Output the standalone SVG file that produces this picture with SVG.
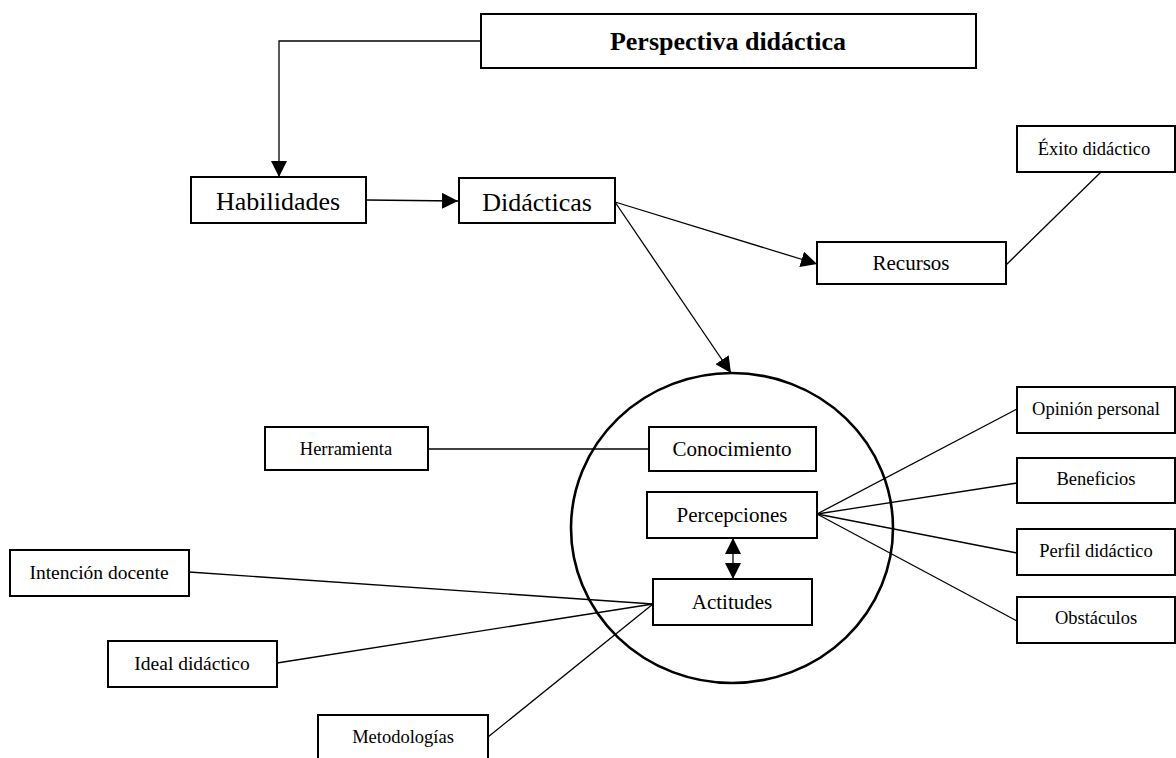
<svg xmlns="http://www.w3.org/2000/svg" width="1176" height="758" viewBox="0 0 1176 758">
  <style>
    .box { fill: #ffffff; stroke: #000000; stroke-width: 2; }
    .ring { fill: none; stroke: #000000; stroke-width: 2.6; }
    .link { fill: none; stroke: #000000; stroke-width: 1.3; }
    text { font-family: "Liberation Serif", "Times New Roman", serif; fill: #000000; text-anchor: middle; }
    .title { font-size: 26px; font-weight: bold; }
    .big { font-size: 26px; }
    .mid { font-size: 21px; }
    .small { font-size: 18.5px; }
  </style>
  <defs>
    <marker id="head" markerUnits="userSpaceOnUse" markerWidth="16" markerHeight="16" viewBox="0 0 16 16" refX="16" refY="8" orient="auto-start-reverse">
      <path d="M0,0 L16,8 L0,16 z" fill="#000000"/>
    </marker>
  </defs>

  <rect width="1176" height="758" fill="#ffffff"/>

  <!-- connectors -->
  <g id="connectors">
    <path class="link" d="M481,41 H279 V177" marker-end="url(#head)"/>
    <path class="link" d="M366,200 L458,201" marker-end="url(#head)"/>
    <path class="link" d="M615,202 L817,264" marker-end="url(#head)"/>
    <path class="link" d="M615,202 L731,373" marker-end="url(#head)"/>
    <path class="link" d="M1006,265 L1101,172"/>
    <path class="link" d="M428,449 H649"/>
    <path class="link" d="M733,538 V579" marker-start="url(#head)" marker-end="url(#head)"/>
    <path class="link" d="M189,572 L653,604"/>
    <path class="link" d="M277,663 L653,604"/>
    <path class="link" d="M488,737 L653,604"/>
    <path class="link" d="M817,514 L1017,409"/>
    <path class="link" d="M817,514 L1017,483"/>
    <path class="link" d="M817,514 L1017,553"/>
    <path class="link" d="M817,514 L1017,621"/>
  </g>

  <!-- circle grouping the three inner concepts -->
  <g id="ambito">
    <ellipse class="ring" cx="732" cy="528" rx="161" ry="155"/>
  </g>

  <g id="perspectiva">
    <rect class="box" x="481" y="14" width="495" height="54"/>
    <text class="title" x="728" y="50">Perspectiva didáctica</text>
  </g>

  <g id="habilidades">
    <rect class="box" x="191" y="177" width="175" height="46"/>
    <text class="big" x="278" y="210">Habilidades</text>
  </g>

  <g id="didacticas">
    <rect class="box" x="459" y="178" width="156" height="45"/>
    <text class="big" x="537" y="211">Didácticas</text>
  </g>

  <g id="recursos">
    <rect class="box" x="817" y="242" width="189" height="42"/>
    <text class="mid" x="911" y="270">Recursos</text>
  </g>

  <g id="exito">
    <rect class="box" x="1017" y="126" width="158" height="46"/>
    <text class="small" x="1094" y="155">Éxito didáctico</text>
  </g>

  <g id="conocimiento">
    <rect class="box" x="649" y="427" width="167" height="44"/>
    <text class="mid" x="732" y="456">Conocimiento</text>
  </g>

  <g id="percepciones">
    <rect class="box" x="647" y="492" width="170" height="46"/>
    <text class="mid" x="732" y="522">Percepciones</text>
  </g>

  <g id="actitudes">
    <rect class="box" x="653" y="579" width="159" height="46"/>
    <text class="mid" x="732" y="609">Actitudes</text>
  </g>

  <g id="herramienta">
    <rect class="box" x="265" y="427" width="163" height="43"/>
    <text class="small" x="346" y="455">Herramienta</text>
  </g>

  <g id="intencion">
    <rect class="box" x="10" y="550" width="179" height="46"/>
    <text class="small" x="99" y="579" style="font-size:19.5px">Intención docente</text>
  </g>

  <g id="ideal">
    <rect class="box" x="108" y="641" width="169" height="46"/>
    <text class="small" x="192" y="670" style="font-size:19.5px">Ideal didáctico</text>
  </g>

  <g id="metodologias">
    <rect class="box" x="318" y="715" width="170" height="50"/>
    <text class="small" x="403" y="743">Metodologías</text>
  </g>

  <g id="opinion">
    <rect class="box" x="1017" y="387" width="158" height="46"/>
    <text class="small" x="1096" y="415">Opinión personal</text>
  </g>

  <g id="beneficios">
    <rect class="box" x="1017" y="458" width="158" height="45"/>
    <text class="small" x="1096" y="485">Beneficios</text>
  </g>

  <g id="perfil">
    <rect class="box" x="1017" y="529" width="158" height="46"/>
    <text class="small" x="1096" y="557">Perfil didáctico</text>
  </g>

  <g id="obstaculos">
    <rect class="box" x="1017" y="597" width="158" height="46"/>
    <text class="small" x="1096" y="624">Obstáculos</text>
  </g>
</svg>
